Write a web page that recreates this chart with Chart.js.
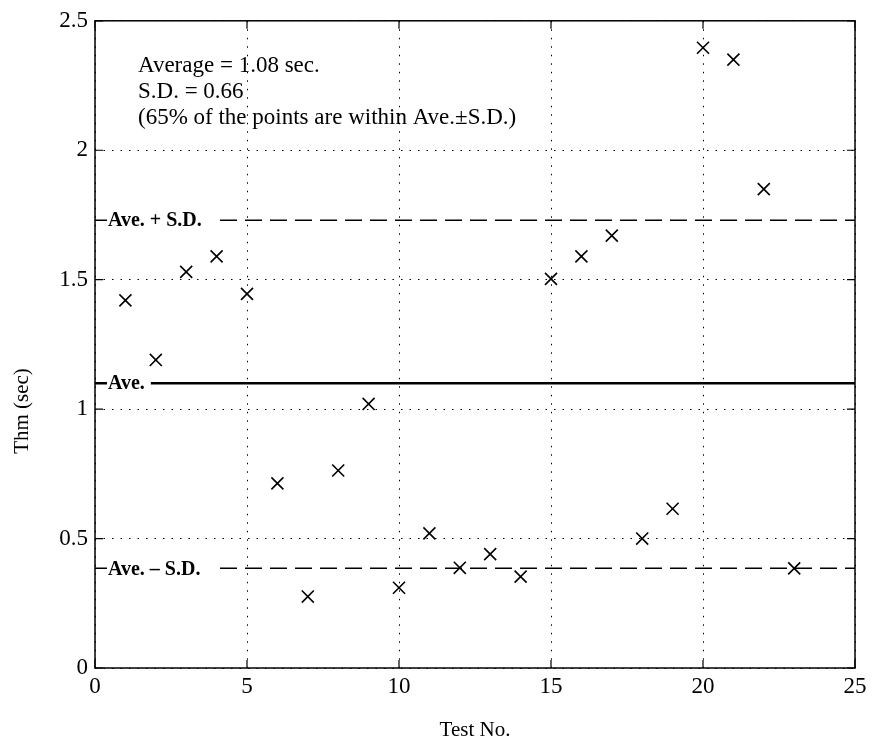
<!DOCTYPE html>
<html>
<head>
<meta charset="utf-8">
<script src="https://cdn.jsdelivr.net/npm/chart.js@4.4.1/dist/chart.umd.min.js"></script>
<style>
  html, body { margin: 0; padding: 0; background: #fff; }
  #wrap { width: 872px; height: 749px; }
</style>
</head>
<body>
<div id="wrap"><canvas id="c" width="872" height="749"></canvas></div>
<script>
// Test number and measured Thm (seconds)
const testNo = [1, 2, 3, 4, 5, 6, 7, 8, 9, 10, 11, 12, 13, 14, 15, 16, 17, 18, 19, 20, 21, 22, 23];
const thm = [1.42, 1.19, 1.53, 1.59, 1.445, 0.713, 0.276, 0.763, 1.02, 0.31, 0.52, 0.387, 0.44, 0.353,
             1.503, 1.59, 1.67, 0.50, 0.615, 2.396, 2.35, 1.85, 0.385];

// Reference levels drawn across the plot
const aveLevel = 1.1;
const upperLevel = 1.73;
const lowerLevel = 0.385;
const levelLabels = ['Ave. + S.D.', 'Ave.', 'Ave. \u2013 S.D.'];

// Statistics note
const noteLines = ['Average = 1.08 sec.', 'S.D. = 0.66', '(65% of the points are within Ave.\u00B1S.D.)'];

const xTicks = [0, 5, 10, 15, 20, 25];
const yTicks = [0, 0.5, 1, 1.5, 2, 2.5];
const xTitle = 'Test No.';
const yTitle = 'Thm (sec)';

const SERIF = '"Liberation Serif", "Times New Roman", serif';

const points = testNo.map((t, i) => ({ x: t, y: thm[i] }));
const across = v => [{ x: 0, y: v }, { x: 25, y: v }];

// Frame, inward ticks, level labels, axis titles and the note
const decor = {
  id: 'decor',
  afterDatasetsDraw(chart) {
    const { ctx, chartArea: a, scales } = chart;
    const xs = scales.x, ys = scales.y;
    ctx.save();

    // level labels on a white background
    ctx.font = 'bold 20px ' + SERIF;
    ctx.textBaseline = 'middle';
    ctx.textAlign = 'left';
    [upperLevel, aveLevel, lowerLevel].forEach((v, i) => {
      const y = ys.getPixelForValue(v);
      const w = ctx.measureText(levelLabels[i]).width;
      const x0 = a.left + 12;
      ctx.fillStyle = '#fff';
      ctx.fillRect(x0, y - 11, w + (i === 1 ? 7 : 16), 22);
      ctx.fillStyle = '#000';
      ctx.fillText(levelLabels[i], x0 + 1, y + 1);
    });

    // frame
    ctx.strokeStyle = '#000';
    ctx.lineWidth = 1.5;
    ctx.strokeRect(a.left, a.top, a.right - a.left, a.bottom - a.top);

    // inward tick marks on all four sides
    const tl = 8;
    ctx.lineWidth = 1.2;
    ctx.beginPath();
    xTicks.forEach(t => {
      const x = xs.getPixelForValue(t);
      ctx.moveTo(x, a.bottom); ctx.lineTo(x, a.bottom - tl);
      ctx.moveTo(x, a.top); ctx.lineTo(x, a.top + tl);
    });
    yTicks.forEach(t => {
      const y = ys.getPixelForValue(t);
      ctx.moveTo(a.left, y); ctx.lineTo(a.left + tl, y);
      ctx.moveTo(a.right, y); ctx.lineTo(a.right - tl, y);
    });
    ctx.stroke();

    // statistics note
    ctx.font = '23px ' + SERIF;
    ctx.fillStyle = '#000';
    ctx.textBaseline = 'alphabetic';
    noteLines.forEach((s, i) => ctx.fillText(s, a.left + 43, a.top + 51 + i * 26));

    // axis titles
    ctx.font = '21px ' + SERIF;
    ctx.textAlign = 'center';
    ctx.textBaseline = 'middle';
    ctx.fillText(xTitle, (a.left + a.right) / 2, a.bottom + 62);
    ctx.translate(22, 411);
    ctx.rotate(-Math.PI / 2);
    ctx.fillText(yTitle, 0, 0);

    ctx.restore();
  }
};

new Chart(document.getElementById('c'), {
  type: 'scatter',
  data: {
    datasets: [
      {
        label: 'Thm',
        data: points,
        showLine: false,
        pointStyle: 'crossRot',
        pointRadius: 8.5,
        pointHoverRadius: 8.5,
        borderColor: '#000',
        backgroundColor: '#000',
        pointBorderWidth: 1.6,
        order: 0
      },
      {
        label: levelLabels[0], type: 'line', data: across(upperLevel),
        borderColor: '#000', borderWidth: 1.5, borderDash: [17, 8],
        pointRadius: 0, fill: false, order: 1
      },
      {
        label: levelLabels[1], type: 'line', data: across(aveLevel),
        borderColor: '#000', borderWidth: 2.4,
        pointRadius: 0, fill: false, order: 1
      },
      {
        label: levelLabels[2], type: 'line', data: across(lowerLevel),
        borderColor: '#000', borderWidth: 1.5, borderDash: [17, 8],
        pointRadius: 0, fill: false, order: 1
      }
    ]
  },
  options: {
    responsive: false,
    animation: false,
    devicePixelRatio: 1,
    layout: { padding: { top: 16, right: 17, left: 0, bottom: 0 } },
    plugins: { legend: { display: false }, tooltip: { enabled: false } },
    scales: {
      x: {
        type: 'linear',
        min: 0, max: 25,
        afterFit: s => { s.height = 81; },
        afterBuildTicks: s => { s.ticks = xTicks.map(v => ({ value: v })); },
        grid: { color: '#000', lineWidth: 1, drawTicks: false },
        border: { display: false, dash: [1.5, 7] },
        ticks: {
          color: '#000', padding: 5, maxRotation: 0,
          font: { family: SERIF, size: 23 },
          callback: v => String(v)
        },
        title: { display: false }
      },
      y: {
        type: 'linear',
        min: 0, max: 2.5,
        afterFit: s => { s.width = 95; },
        afterBuildTicks: s => { s.ticks = yTicks.map(v => ({ value: v })); },
        grid: { color: '#000', lineWidth: 1, drawTicks: false },
        border: { display: false, dash: [1.5, 7] },
        ticks: {
          color: '#000', padding: 7,
          font: { family: SERIF, size: 23 },
          callback: v => String(v)
        },
        title: { display: false }
      }
    }
  },
  plugins: [decor]
});
</script>
</body>
</html>
